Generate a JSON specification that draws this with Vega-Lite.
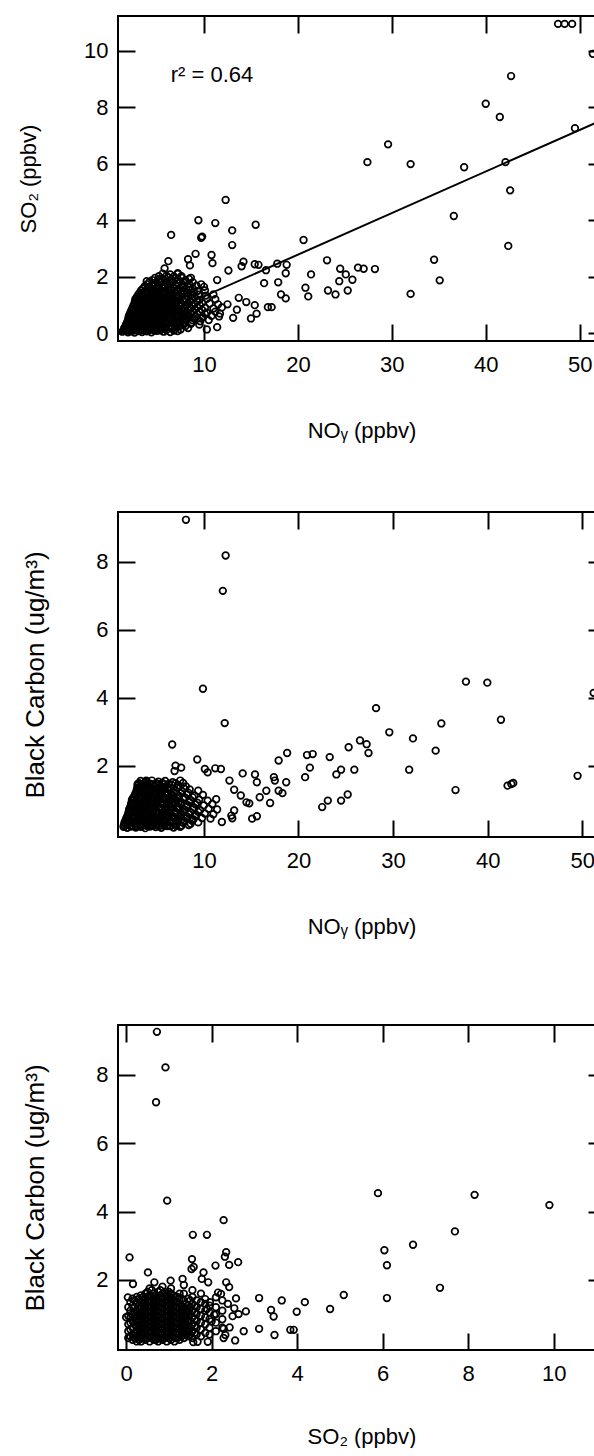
{
"$schema":"https://vega.github.io/schema/vega-lite/v6.json",
"padding":{"left":16,"top":14,"right":0,"bottom":0},
"spacing":68,
"config":{"font":"Liberation Sans","view":{"stroke":"black","strokeWidth":2},
 "point":{"shape":"circle","filled":false,"color":"black","size":44,"strokeWidth":1.7,"opacity":1},
 "axis":{"domain":false,"grid":false,"offset":-17,"tickColor":"black","tickWidth":2,"tickSize":17,"labelFont":"Liberation Sans","labelFontSize":22,"labelColor":"black","titleFont":"Liberation Sans","titleFontSize":22,"titleFontWeight":"normal","titleColor":"black"},
 "axisBottom":{"labelPadding":13,"titlePadding":45},
 "axisLeft":{"labelPadding":10,"titlePadding":43}},
"datasets":{
"p1":[
{"noy":47.7,"so2":10.96},{"noy":48.4,"so2":10.96},{"noy":49.2,"so2":10.96},{"noy":51.4,"so2":9.9},{"noy":42.7,"so2":9.11},{"noy":40.0,"so2":8.13},{"noy":41.5,"so2":7.66},{"noy":49.5,"so2":7.26},{"noy":29.6,"so2":6.69},{"noy":27.4,"so2":6.06},{"noy":32.0,"so2":5.99},{"noy":37.7,"so2":5.88},{"noy":42.1,"so2":6.06},{"noy":42.6,"so2":5.06},{"noy":36.6,"so2":4.15},{"noy":42.4,"so2":3.09},{"noy":20.6,"so2":3.30},{"noy":23.1,"so2":2.58},{"noy":34.5,"so2":2.60},{"noy":24.5,"so2":2.28},{"noy":25.1,"so2":2.08},{"noy":21.4,"so2":2.08},{"noy":26.4,"so2":2.32},{"noy":27.0,"so2":2.28},{"noy":28.2,"so2":2.27},{"noy":25.8,"so2":1.89},{"noy":24.4,"so2":1.84},{"noy":20.8,"so2":1.61},{"noy":23.2,"so2":1.51},{"noy":25.3,"so2":1.51},{"noy":21.1,"so2":1.30},{"noy":24.0,"so2":1.37},{"noy":35.1,"so2":1.87},{"noy":32.0,"so2":1.39},
{"noy":12.3,"so2":4.72},{"noy":9.4,"so2":4.0},{"noy":11.2,"so2":3.9},{"noy":15.5,"so2":3.84},{"noy":13.0,"so2":3.64},{"noy":6.5,"so2":3.48},{"noy":9.8,"so2":3.42},{"noy":9.7,"so2":3.38},{"noy":13.0,"so2":3.12},{"noy":9.1,"so2":2.81},{"noy":10.8,"so2":2.77},{"noy":10.9,"so2":2.48},{"noy":8.3,"so2":2.62},{"noy":6.2,"so2":2.55},{"noy":5.8,"so2":2.29},{"noy":8.5,"so2":2.40},{"noy":12.6,"so2":2.22},{"noy":14.2,"so2":2.53},{"noy":14.0,"so2":2.37},{"noy":15.4,"so2":2.44},{"noy":15.8,"so2":2.42},{"noy":16.6,"so2":2.23},{"noy":17.8,"so2":2.46},{"noy":18.8,"so2":2.42},{"noy":18.7,"so2":2.12},{"noy":16.4,"so2":1.77},{"noy":17.9,"so2":1.80},{"noy":18.2,"so2":1.37},{"noy":18.7,"so2":1.23},{"noy":16.8,"so2":0.92},{"noy":17.2,"so2":0.92},{"noy":13.7,"so2":1.25},{"noy":14.5,"so2":1.10},{"noy":15.4,"so2":0.99},{"noy":15.0,"so2":0.52},{"noy":15.6,"so2":0.69},{"noy":13.1,"so2":0.54},{"noy":13.5,"so2":0.83},{"noy":11.7,"so2":0.69},{"noy":11.4,"so2":0.21},{"noy":10.3,"so2":0.13},{"noy":12.5,"so2":1.02},{"noy":11.4,"so2":1.88},{"noy":3.9,"so2":1.84},{"noy":2.7,"so2":1.13},{"noy":9.7,"so2":1.73},{"noy":8.6,"so2":1.96},{"noy":7.2,"so2":2.10},
{"noy":1.3,"so2":0.05},{"noy":1.6,"so2":0.08},{"noy":1.9,"so2":0.03},{"noy":2.2,"so2":0.06},{"noy":2.6,"so2":0.02},{"noy":3.0,"so2":0.07},{"noy":3.4,"so2":0.04},{"noy":3.9,"so2":0.06},{"noy":4.4,"so2":0.03},{"noy":5.0,"so2":0.08},{"noy":5.7,"so2":0.05},{"noy":6.4,"so2":0.04},{"noy":7.2,"so2":0.07},
{"noy":1.5,"so2":0.17},{"noy":1.8,"so2":0.13},{"noy":2.1,"so2":0.18},{"noy":2.4,"so2":0.14},{"noy":2.8,"so2":0.16},{"noy":3.2,"so2":0.12},{"noy":3.6,"so2":0.18},{"noy":4.1,"so2":0.15},{"noy":4.6,"so2":0.13},{"noy":5.2,"so2":0.17},{"noy":5.8,"so2":0.14},{"noy":6.6,"so2":0.16},{"noy":7.5,"so2":0.13},{"noy":8.3,"so2":0.18},
{"noy":1.7,"so2":0.31},{"noy":2.0,"so2":0.28},{"noy":2.3,"so2":0.33},{"noy":2.7,"so2":0.29},{"noy":3.0,"so2":0.32},{"noy":3.4,"so2":0.27},{"noy":3.8,"so2":0.31},{"noy":4.3,"so2":0.33},{"noy":4.8,"so2":0.28},{"noy":5.3,"so2":0.30},{"noy":5.9,"so2":0.32},{"noy":6.5,"so2":0.27},{"noy":7.1,"so2":0.31},{"noy":7.8,"so2":0.29},{"noy":8.6,"so2":0.33},{"noy":9.5,"so2":0.30},
{"noy":1.9,"so2":0.46},{"noy":2.2,"so2":0.43},{"noy":2.5,"so2":0.47},{"noy":2.9,"so2":0.44},{"noy":3.3,"so2":0.46},{"noy":3.7,"so2":0.42},{"noy":4.1,"so2":0.47},{"noy":4.6,"so2":0.45},{"noy":5.1,"so2":0.43},{"noy":5.6,"so2":0.48},{"noy":6.2,"so2":0.44},{"noy":6.8,"so2":0.46},{"noy":7.4,"so2":0.43},{"noy":8.0,"so2":0.47},{"noy":8.8,"so2":0.45},{"noy":9.6,"so2":0.42},{"noy":10.5,"so2":0.46},
{"noy":2.0,"so2":0.61},{"noy":2.4,"so2":0.58},{"noy":2.8,"so2":0.62},{"noy":3.1,"so2":0.59},{"noy":3.5,"so2":0.61},{"noy":3.9,"so2":0.57},{"noy":4.4,"so2":0.62},{"noy":4.9,"so2":0.60},{"noy":5.4,"so2":0.58},{"noy":5.9,"so2":0.63},{"noy":6.4,"so2":0.59},{"noy":7.0,"so2":0.61},{"noy":7.7,"so2":0.58},{"noy":8.4,"so2":0.62},{"noy":9.1,"so2":0.60},{"noy":9.9,"so2":0.57},{"noy":10.8,"so2":0.61},{"noy":11.6,"so2":0.59},
{"noy":2.2,"so2":0.76},{"noy":2.6,"so2":0.73},{"noy":3.0,"so2":0.77},{"noy":3.4,"so2":0.74},{"noy":3.8,"so2":0.76},{"noy":4.2,"so2":0.72},{"noy":4.7,"so2":0.77},{"noy":5.2,"so2":0.75},{"noy":5.7,"so2":0.73},{"noy":6.2,"so2":0.78},{"noy":6.8,"so2":0.74},{"noy":7.4,"so2":0.76},{"noy":8.1,"so2":0.73},{"noy":8.8,"so2":0.77},{"noy":9.5,"so2":0.75},{"noy":10.3,"so2":0.72},{"noy":11.2,"so2":0.76},
{"noy":2.4,"so2":0.91},{"noy":2.8,"so2":0.88},{"noy":3.2,"so2":0.92},{"noy":3.6,"so2":0.89},{"noy":4.0,"so2":0.91},{"noy":4.5,"so2":0.87},{"noy":5.0,"so2":0.92},{"noy":5.5,"so2":0.90},{"noy":6.0,"so2":0.88},{"noy":6.6,"so2":0.93},{"noy":7.2,"so2":0.89},{"noy":7.9,"so2":0.91},{"noy":8.6,"so2":0.88},{"noy":9.3,"so2":0.92},{"noy":10.1,"so2":0.90},{"noy":11.0,"so2":0.87},{"noy":11.9,"so2":0.91},
{"noy":2.6,"so2":1.06},{"noy":3.0,"so2":1.03},{"noy":3.4,"so2":1.07},{"noy":3.8,"so2":1.04},{"noy":4.3,"so2":1.06},{"noy":4.8,"so2":1.02},{"noy":5.3,"so2":1.07},{"noy":5.8,"so2":1.05},{"noy":6.4,"so2":1.03},{"noy":7.0,"so2":1.08},{"noy":7.6,"so2":1.04},{"noy":8.3,"so2":1.06},{"noy":9.0,"so2":1.03},{"noy":9.8,"so2":1.07},{"noy":10.6,"so2":1.05},{"noy":11.5,"so2":1.02},
{"noy":2.7,"so2":1.21},{"noy":3.2,"so2":1.18},{"noy":3.6,"so2":1.22},{"noy":4.0,"so2":1.19},{"noy":4.5,"so2":1.21},{"noy":5.0,"so2":1.17},{"noy":5.5,"so2":1.22},{"noy":6.1,"so2":1.20},{"noy":6.7,"so2":1.18},{"noy":7.3,"so2":1.23},{"noy":8.0,"so2":1.19},{"noy":8.7,"so2":1.21},{"noy":9.5,"so2":1.18},{"noy":10.3,"so2":1.22},{"noy":11.2,"so2":1.20},
{"noy":3.0,"so2":1.36},{"noy":3.4,"so2":1.33},{"noy":3.9,"so2":1.37},{"noy":4.4,"so2":1.34},{"noy":4.9,"so2":1.36},{"noy":5.4,"so2":1.32},{"noy":6.0,"so2":1.37},{"noy":6.6,"so2":1.35},{"noy":7.2,"so2":1.33},{"noy":7.9,"so2":1.38},{"noy":8.6,"so2":1.34},{"noy":9.4,"so2":1.36},{"noy":10.2,"so2":1.33},{"noy":11.0,"so2":1.37},
{"noy":3.3,"so2":1.51},{"noy":3.8,"so2":1.48},{"noy":4.3,"so2":1.52},{"noy":4.8,"so2":1.49},{"noy":5.3,"so2":1.51},{"noy":5.9,"so2":1.47},{"noy":6.5,"so2":1.52},{"noy":7.1,"so2":1.50},{"noy":7.8,"so2":1.48},{"noy":8.5,"so2":1.53},{"noy":9.3,"so2":1.49},{"noy":10.1,"so2":1.51},
{"noy":3.7,"so2":1.66},{"noy":4.2,"so2":1.63},{"noy":4.7,"so2":1.67},{"noy":5.2,"so2":1.64},{"noy":5.8,"so2":1.66},{"noy":6.4,"so2":1.62},{"noy":7.0,"so2":1.67},{"noy":7.7,"so2":1.65},{"noy":8.4,"so2":1.63},{"noy":9.2,"so2":1.68},{"noy":10.0,"so2":1.64},
{"noy":4.2,"so2":1.81},{"noy":4.8,"so2":1.78},{"noy":5.4,"so2":1.82},{"noy":6.0,"so2":1.79},{"noy":6.6,"so2":1.81},{"noy":7.3,"so2":1.77},{"noy":8.0,"so2":1.82},{"noy":8.8,"so2":1.80},
{"noy":4.8,"so2":1.96},{"noy":5.5,"so2":1.93},{"noy":6.2,"so2":1.97},{"noy":6.9,"so2":1.94},{"noy":7.6,"so2":1.96},{"noy":8.4,"so2":1.92},
{"noy":5.6,"so2":2.11},{"noy":6.4,"so2":2.08},{"noy":7.2,"so2":2.12},
{"noy":1.45,"so2":0.10},{"noy":1.75,"so2":0.11},{"noy":2.05,"so2":0.09},{"noy":2.4,"so2":0.10},{"noy":2.8,"so2":0.11},{"noy":3.2,"so2":0.09},{"noy":3.65,"so2":0.10},{"noy":4.15,"so2":0.11},{"noy":4.7,"so2":0.09},{"noy":5.35,"so2":0.10},{"noy":6.0,"so2":0.11},{"noy":6.8,"so2":0.09},
{"noy":1.6,"so2":0.23},{"noy":1.95,"so2":0.24},{"noy":2.25,"so2":0.22},{"noy":2.55,"so2":0.23},{"noy":2.9,"so2":0.24},{"noy":3.3,"so2":0.22},{"noy":3.7,"so2":0.23},{"noy":4.2,"so2":0.24},{"noy":4.7,"so2":0.22},{"noy":5.25,"so2":0.23},{"noy":5.85,"so2":0.24},{"noy":6.55,"so2":0.22},{"noy":7.3,"so2":0.23},{"noy":8.0,"so2":0.24},
{"noy":1.8,"so2":0.38},{"noy":2.15,"so2":0.39},{"noy":2.5,"so2":0.37},{"noy":2.85,"so2":0.38},{"noy":3.2,"so2":0.39},{"noy":3.55,"so2":0.37},{"noy":4.0,"so2":0.38},{"noy":4.45,"so2":0.39},{"noy":4.95,"so2":0.37},{"noy":5.45,"so2":0.38},{"noy":6.05,"so2":0.39},{"noy":6.65,"so2":0.37},{"noy":7.25,"so2":0.38},{"noy":7.95,"so2":0.39},{"noy":8.7,"so2":0.37},
{"noy":1.95,"so2":0.53},{"noy":2.3,"so2":0.54},{"noy":2.65,"so2":0.52},{"noy":3.0,"so2":0.53},{"noy":3.4,"so2":0.54},{"noy":3.8,"so2":0.52},{"noy":4.25,"so2":0.53},{"noy":4.75,"so2":0.54},{"noy":5.25,"so2":0.52},{"noy":5.75,"so2":0.53},{"noy":6.3,"so2":0.54},{"noy":6.9,"so2":0.52},{"noy":7.55,"so2":0.53},{"noy":8.2,"so2":0.54},{"noy":8.95,"so2":0.52},{"noy":9.75,"so2":0.53},
{"noy":2.1,"so2":0.68},{"noy":2.5,"so2":0.69},{"noy":2.9,"so2":0.67},{"noy":3.25,"so2":0.68},{"noy":3.65,"so2":0.69},{"noy":4.05,"so2":0.67},{"noy":4.55,"so2":0.68},{"noy":5.05,"so2":0.69},{"noy":5.55,"so2":0.67},{"noy":6.05,"so2":0.68},{"noy":6.6,"so2":0.69},{"noy":7.2,"so2":0.67},{"noy":7.9,"so2":0.68},{"noy":8.6,"so2":0.69},{"noy":9.3,"so2":0.67},{"noy":10.1,"so2":0.68},
{"noy":2.3,"so2":0.83},{"noy":2.7,"so2":0.84},{"noy":3.1,"so2":0.82},{"noy":3.5,"so2":0.83},{"noy":3.9,"so2":0.84},{"noy":4.35,"so2":0.82},{"noy":4.85,"so2":0.83},{"noy":5.35,"so2":0.84},{"noy":5.85,"so2":0.82},{"noy":6.4,"so2":0.83},{"noy":7.0,"so2":0.84},{"noy":7.65,"so2":0.82},{"noy":8.35,"so2":0.83},{"noy":9.05,"so2":0.84},{"noy":9.8,"so2":0.82},
{"noy":2.5,"so2":0.98},{"noy":2.9,"so2":0.99},{"noy":3.3,"so2":0.97},{"noy":3.7,"so2":0.98},{"noy":4.15,"so2":0.99},{"noy":4.65,"so2":0.97},{"noy":5.15,"so2":0.98},{"noy":5.65,"so2":0.99},{"noy":6.2,"so2":0.97},{"noy":6.8,"so2":0.98},{"noy":7.4,"so2":0.99},{"noy":8.1,"so2":0.97},{"noy":8.8,"so2":0.98},{"noy":9.55,"so2":0.99},
{"noy":2.65,"so2":1.13},{"noy":3.1,"so2":1.14},{"noy":3.5,"so2":1.12},{"noy":3.9,"so2":1.13},{"noy":4.4,"so2":1.14},{"noy":4.9,"so2":1.12},{"noy":5.4,"so2":1.13},{"noy":5.95,"so2":1.14},{"noy":6.55,"so2":1.12},{"noy":7.15,"so2":1.13},{"noy":7.8,"so2":1.14},{"noy":8.5,"so2":1.12},{"noy":9.25,"so2":1.13},
{"noy":2.85,"so2":1.28},{"noy":3.3,"so2":1.29},{"noy":3.75,"so2":1.27},{"noy":4.2,"so2":1.28},{"noy":4.7,"so2":1.29},{"noy":5.2,"so2":1.27},{"noy":5.75,"so2":1.28},{"noy":6.3,"so2":1.29},{"noy":6.95,"so2":1.27},{"noy":7.6,"so2":1.28},{"noy":8.3,"so2":1.29},{"noy":9.0,"so2":1.27},
{"noy":3.15,"so2":1.43},{"noy":3.6,"so2":1.44},{"noy":4.1,"so2":1.42},{"noy":4.6,"so2":1.43},{"noy":5.1,"so2":1.44},{"noy":5.65,"so2":1.42},{"noy":6.25,"so2":1.43},{"noy":6.85,"so2":1.44},{"noy":7.5,"so2":1.42},{"noy":8.2,"so2":1.43},{"noy":8.95,"so2":1.44},
{"noy":3.5,"so2":1.58},{"noy":4.0,"so2":1.59},{"noy":4.5,"so2":1.57},{"noy":5.0,"so2":1.58},{"noy":5.55,"so2":1.59},{"noy":6.15,"so2":1.57},{"noy":6.75,"so2":1.58},{"noy":7.4,"so2":1.59},{"noy":8.1,"so2":1.57},{"noy":8.8,"so2":1.58},
{"noy":3.95,"so2":1.73},{"noy":4.5,"so2":1.74},{"noy":5.1,"so2":1.72},{"noy":5.7,"so2":1.73},{"noy":6.3,"so2":1.74},{"noy":6.95,"so2":1.72},{"noy":7.65,"so2":1.73},{"noy":8.4,"so2":1.74},
{"noy":4.5,"so2":1.88},{"noy":5.15,"so2":1.89},{"noy":5.85,"so2":1.87},{"noy":6.55,"so2":1.88},{"noy":7.25,"so2":1.89},{"noy":8.0,"so2":1.87},
{"noy":5.2,"so2":2.02},{"noy":6.0,"so2":2.03},{"noy":6.8,"so2":2.01},{"noy":7.6,"so2":2.02},
{"noy":1.65,"so2":0.19},{"noy":2.25,"so2":0.2},{"noy":2.85,"so2":0.19},{"noy":3.45,"so2":0.2},{"noy":4.05,"so2":0.19},{"noy":4.65,"so2":0.2},{"noy":5.25,"so2":0.19},{"noy":5.85,"so2":0.2},{"noy":6.45,"so2":0.19},{"noy":7.05,"so2":0.2},
{"noy":1.85,"so2":0.34},{"noy":2.45,"so2":0.35},{"noy":3.05,"so2":0.34},{"noy":3.65,"so2":0.35},{"noy":4.25,"so2":0.34},{"noy":4.85,"so2":0.35},{"noy":5.45,"so2":0.34},{"noy":6.05,"so2":0.35},{"noy":6.65,"so2":0.34},{"noy":7.25,"so2":0.35},{"noy":7.85,"so2":0.34},
{"noy":2.05,"so2":0.49},{"noy":2.65,"so2":0.5},{"noy":3.25,"so2":0.49},{"noy":3.85,"so2":0.5},{"noy":4.45,"so2":0.49},{"noy":5.05,"so2":0.5},{"noy":5.65,"so2":0.49},{"noy":6.25,"so2":0.5},{"noy":6.85,"so2":0.49},{"noy":7.45,"so2":0.5},{"noy":8.05,"so2":0.49},
{"noy":2.25,"so2":0.64},{"noy":2.85,"so2":0.65},{"noy":3.45,"so2":0.64},{"noy":4.05,"so2":0.65},{"noy":4.65,"so2":0.64},{"noy":5.25,"so2":0.65},{"noy":5.85,"so2":0.64},{"noy":6.45,"so2":0.65},{"noy":7.05,"so2":0.64},{"noy":7.65,"so2":0.65},{"noy":8.25,"so2":0.64},
{"noy":2.45,"so2":0.79},{"noy":3.05,"so2":0.8},{"noy":3.65,"so2":0.79},{"noy":4.25,"so2":0.8},{"noy":4.85,"so2":0.79},{"noy":5.45,"so2":0.8},{"noy":6.05,"so2":0.79},{"noy":6.65,"so2":0.8},{"noy":7.25,"so2":0.79},{"noy":7.85,"so2":0.8},
{"noy":2.65,"so2":0.94},{"noy":3.25,"so2":0.95},{"noy":3.85,"so2":0.94},{"noy":4.45,"so2":0.95},{"noy":5.05,"so2":0.94},{"noy":5.65,"so2":0.95},{"noy":6.25,"so2":0.94},{"noy":6.85,"so2":0.95},{"noy":7.45,"so2":0.94},
{"noy":2.85,"so2":1.09},{"noy":3.45,"so2":1.1},{"noy":4.05,"so2":1.09},{"noy":4.65,"so2":1.1},{"noy":5.25,"so2":1.09},{"noy":5.85,"so2":1.1},{"noy":6.45,"so2":1.09},{"noy":7.05,"so2":1.1},
{"noy":3.05,"so2":1.24},{"noy":3.65,"so2":1.25},{"noy":4.25,"so2":1.24},{"noy":4.85,"so2":1.25},{"noy":5.45,"so2":1.24},{"noy":6.05,"so2":1.25},{"noy":6.65,"so2":1.24},
{"noy":3.35,"so2":1.39},{"noy":3.95,"so2":1.4},{"noy":4.55,"so2":1.39},{"noy":5.15,"so2":1.4},{"noy":5.75,"so2":1.39},{"noy":6.35,"so2":1.4}
],
"p2":[
{"noy":8.1,"bc":9.24},{"noy":12.3,"bc":8.19},{"noy":12.0,"bc":7.15},{"noy":9.9,"bc":4.27},{"noy":12.2,"bc":3.26},{"noy":6.65,"bc":2.63},{"noy":9.3,"bc":2.19},{"noy":18.8,"bc":2.38},{"noy":17.9,"bc":2.16},{"noy":14.1,"bc":1.78},{"noy":15.4,"bc":1.75},{"noy":15.6,"bc":1.52},{"noy":17.4,"bc":1.67},{"noy":17.5,"bc":1.57},{"noy":18.7,"bc":1.52},{"noy":16.6,"bc":1.27},{"noy":15.9,"bc":1.08},{"noy":17.9,"bc":1.27},{"noy":18.3,"bc":1.20},{"noy":17.0,"bc":0.91},{"noy":15.1,"bc":0.45},{"noy":15.6,"bc":0.52},{"noy":14.5,"bc":0.93},{"noy":13.2,"bc":0.69},{"noy":12.9,"bc":0.54},{"noy":11.9,"bc":0.35},{"noy":13.0,"bc":0.46},{"noy":13.9,"bc":1.13},{"noy":14.8,"bc":0.9},{"noy":12.7,"bc":1.57},{"noy":13.2,"bc":1.3},{"noy":11.8,"bc":1.91},{"noy":11.2,"bc":1.93},{"noy":10.4,"bc":1.81},{"noy":10.1,"bc":1.91},{"noy":7.0,"bc":2.01},{"noy":7.6,"bc":1.95},{"noy":6.9,"bc":1.85},{"noy":2.5,"bc":1.03},{"noy":3.0,"bc":1.47},{"noy":3.9,"bc":1.57},
{"noy":37.7,"bc":4.48},{"noy":39.96,"bc":4.45},{"noy":51.2,"bc":4.15},{"noy":41.4,"bc":3.36},{"noy":28.2,"bc":3.70},{"noy":35.1,"bc":3.25},{"noy":29.6,"bc":2.99},{"noy":32.1,"bc":2.81},{"noy":26.5,"bc":2.75},{"noy":27.2,"bc":2.64},{"noy":27.4,"bc":2.38},{"noy":25.3,"bc":2.55},{"noy":34.5,"bc":2.45},{"noy":23.3,"bc":2.26},{"noy":20.9,"bc":2.32},{"noy":21.5,"bc":2.35},{"noy":21.2,"bc":1.95},{"noy":20.7,"bc":1.67},{"noy":24.5,"bc":1.89},{"noy":24.0,"bc":1.75},{"noy":25.9,"bc":1.89},{"noy":31.7,"bc":1.89},{"noy":25.2,"bc":1.16},{"noy":24.5,"bc":0.98},{"noy":23.1,"bc":0.98},{"noy":22.5,"bc":0.79},{"noy":36.6,"bc":1.29},{"noy":42.1,"bc":1.42},{"noy":42.5,"bc":1.47},{"noy":42.7,"bc":1.5},{"noy":49.5,"bc":1.71},
{"noy":1.5,"bc":0.21},{"noy":1.9,"bc":0.18},{"noy":2.3,"bc":0.22},{"noy":2.8,"bc":0.19},{"noy":3.3,"bc":0.21},{"noy":3.8,"bc":0.17},{"noy":4.3,"bc":0.22},{"noy":4.9,"bc":0.20},{"noy":5.5,"bc":0.18},{"noy":6.1,"bc":0.23},{"noy":6.8,"bc":0.19},{"noy":7.5,"bc":0.21},
{"noy":1.6,"bc":0.33},{"noy":2.0,"bc":0.30},{"noy":2.4,"bc":0.34},{"noy":2.9,"bc":0.31},{"noy":3.4,"bc":0.33},{"noy":3.9,"bc":0.29},{"noy":4.5,"bc":0.34},{"noy":5.1,"bc":0.32},{"noy":5.7,"bc":0.30},{"noy":6.4,"bc":0.35},{"noy":7.1,"bc":0.31},{"noy":7.8,"bc":0.33},{"noy":8.6,"bc":0.30},{"noy":9.4,"bc":0.34},
{"noy":1.8,"bc":0.46},{"noy":2.2,"bc":0.43},{"noy":2.6,"bc":0.47},{"noy":3.1,"bc":0.44},{"noy":3.6,"bc":0.46},{"noy":4.1,"bc":0.42},{"noy":4.7,"bc":0.47},{"noy":5.3,"bc":0.45},{"noy":5.9,"bc":0.43},{"noy":6.6,"bc":0.48},{"noy":7.3,"bc":0.44},{"noy":8.1,"bc":0.46},{"noy":8.9,"bc":0.43},{"noy":9.8,"bc":0.47},{"noy":10.7,"bc":0.45},
{"noy":2.0,"bc":0.59},{"noy":2.4,"bc":0.56},{"noy":2.9,"bc":0.60},{"noy":3.4,"bc":0.57},{"noy":3.9,"bc":0.59},{"noy":4.4,"bc":0.55},{"noy":5.0,"bc":0.60},{"noy":5.6,"bc":0.58},{"noy":6.2,"bc":0.56},{"noy":6.9,"bc":0.61},{"noy":7.6,"bc":0.57},{"noy":8.4,"bc":0.59},{"noy":9.2,"bc":0.56},{"noy":10.1,"bc":0.60},{"noy":11.0,"bc":0.58},
{"noy":2.1,"bc":0.73},{"noy":2.6,"bc":0.70},{"noy":3.1,"bc":0.74},{"noy":3.6,"bc":0.71},{"noy":4.1,"bc":0.73},{"noy":4.7,"bc":0.69},{"noy":5.3,"bc":0.74},{"noy":5.9,"bc":0.72},{"noy":6.5,"bc":0.70},{"noy":7.2,"bc":0.75},{"noy":8.0,"bc":0.71},{"noy":8.8,"bc":0.73},{"noy":9.6,"bc":0.70},{"noy":10.5,"bc":0.74},{"noy":11.4,"bc":0.72},
{"noy":2.3,"bc":0.87},{"noy":2.8,"bc":0.84},{"noy":3.3,"bc":0.88},{"noy":3.8,"bc":0.85},{"noy":4.3,"bc":0.87},{"noy":4.9,"bc":0.83},{"noy":5.5,"bc":0.88},{"noy":6.1,"bc":0.86},{"noy":6.8,"bc":0.84},{"noy":7.5,"bc":0.89},{"noy":8.3,"bc":0.85},{"noy":9.1,"bc":0.87},{"noy":10.0,"bc":0.84},{"noy":10.9,"bc":0.88},
{"noy":2.4,"bc":1.01},{"noy":2.9,"bc":0.98},{"noy":3.4,"bc":1.02},{"noy":3.9,"bc":0.99},{"noy":4.5,"bc":1.01},{"noy":5.1,"bc":0.97},{"noy":5.7,"bc":1.02},{"noy":6.4,"bc":1.00},{"noy":7.1,"bc":0.98},{"noy":7.8,"bc":1.03},{"noy":8.6,"bc":0.99},{"noy":9.5,"bc":1.01},{"noy":10.4,"bc":0.98},{"noy":11.3,"bc":1.02},
{"noy":2.7,"bc":1.15},{"noy":3.2,"bc":1.12},{"noy":3.7,"bc":1.16},{"noy":4.2,"bc":1.13},{"noy":4.8,"bc":1.15},{"noy":5.4,"bc":1.11},{"noy":6.0,"bc":1.16},{"noy":6.7,"bc":1.14},{"noy":7.4,"bc":1.12},{"noy":8.2,"bc":1.17},{"noy":9.0,"bc":1.13},{"noy":9.9,"bc":1.15},
{"noy":2.9,"bc":1.29},{"noy":3.4,"bc":1.26},{"noy":3.9,"bc":1.30},{"noy":4.4,"bc":1.27},{"noy":5.0,"bc":1.29},{"noy":5.6,"bc":1.25},{"noy":6.3,"bc":1.30},{"noy":7.0,"bc":1.28},{"noy":7.7,"bc":1.26},{"noy":8.5,"bc":1.31},{"noy":9.4,"bc":1.27},
{"noy":3.0,"bc":1.43},{"noy":3.6,"bc":1.40},{"noy":4.1,"bc":1.44},{"noy":4.7,"bc":1.41},{"noy":5.3,"bc":1.43},{"noy":5.9,"bc":1.39},{"noy":6.6,"bc":1.44},{"noy":7.3,"bc":1.42},{"noy":8.1,"bc":1.40},
{"noy":3.3,"bc":1.56},{"noy":3.9,"bc":1.53},{"noy":4.5,"bc":1.57},{"noy":5.2,"bc":1.54},{"noy":5.9,"bc":1.56},{"noy":6.7,"bc":1.52},{"noy":7.5,"bc":1.57},
{"noy":1.55,"bc":0.26},{"noy":1.95,"bc":0.27},{"noy":2.35,"bc":0.25},{"noy":2.85,"bc":0.26},{"noy":3.35,"bc":0.27},{"noy":3.85,"bc":0.25},{"noy":4.4,"bc":0.26},{"noy":5.0,"bc":0.27},{"noy":5.6,"bc":0.25},{"noy":6.25,"bc":0.26},{"noy":6.95,"bc":0.27},{"noy":7.65,"bc":0.25},{"noy":8.4,"bc":0.26},
{"noy":1.7,"bc":0.39},{"noy":2.1,"bc":0.40},{"noy":2.5,"bc":0.38},{"noy":3.0,"bc":0.39},{"noy":3.5,"bc":0.40},{"noy":4.0,"bc":0.38},{"noy":4.6,"bc":0.39},{"noy":5.2,"bc":0.40},{"noy":5.8,"bc":0.38},{"noy":6.5,"bc":0.39},{"noy":7.2,"bc":0.40},{"noy":7.95,"bc":0.38},{"noy":8.75,"bc":0.39},
{"noy":1.9,"bc":0.52},{"noy":2.3,"bc":0.53},{"noy":2.75,"bc":0.51},{"noy":3.25,"bc":0.52},{"noy":3.75,"bc":0.53},{"noy":4.25,"bc":0.51},{"noy":4.85,"bc":0.52},{"noy":5.45,"bc":0.53},{"noy":6.05,"bc":0.51},{"noy":6.75,"bc":0.52},{"noy":7.45,"bc":0.53},{"noy":8.25,"bc":0.51},{"noy":9.05,"bc":0.52},
{"noy":2.05,"bc":0.65},{"noy":2.5,"bc":0.66},{"noy":3.0,"bc":0.64},{"noy":3.5,"bc":0.65},{"noy":4.0,"bc":0.66},{"noy":4.55,"bc":0.64},{"noy":5.15,"bc":0.65},{"noy":5.75,"bc":0.66},{"noy":6.35,"bc":0.64},{"noy":7.05,"bc":0.65},{"noy":7.8,"bc":0.66},{"noy":8.6,"bc":0.64},{"noy":9.4,"bc":0.65},
{"noy":2.2,"bc":0.79},{"noy":2.7,"bc":0.80},{"noy":3.2,"bc":0.78},{"noy":3.7,"bc":0.79},{"noy":4.2,"bc":0.80},{"noy":4.8,"bc":0.78},{"noy":5.4,"bc":0.79},{"noy":6.0,"bc":0.80},{"noy":6.65,"bc":0.78},{"noy":7.35,"bc":0.79},{"noy":8.15,"bc":0.80},{"noy":8.95,"bc":0.78},
{"noy":2.35,"bc":0.93},{"noy":2.85,"bc":0.94},{"noy":3.35,"bc":0.92},{"noy":3.85,"bc":0.93},{"noy":4.4,"bc":0.94},{"noy":5.0,"bc":0.92},{"noy":5.6,"bc":0.93},{"noy":6.25,"bc":0.94},{"noy":6.95,"bc":0.92},{"noy":7.65,"bc":0.93},{"noy":8.45,"bc":0.94},{"noy":9.3,"bc":0.92},
{"noy":2.55,"bc":1.07},{"noy":3.05,"bc":1.08},{"noy":3.55,"bc":1.06},{"noy":4.05,"bc":1.07},{"noy":4.65,"bc":1.08},{"noy":5.25,"bc":1.06},{"noy":5.85,"bc":1.07},{"noy":6.55,"bc":1.08},{"noy":7.25,"bc":1.06},{"noy":8.0,"bc":1.07},{"noy":8.8,"bc":1.08},
{"noy":2.8,"bc":1.21},{"noy":3.3,"bc":1.22},{"noy":3.8,"bc":1.20},{"noy":4.3,"bc":1.21},{"noy":4.9,"bc":1.22},{"noy":5.5,"bc":1.20},{"noy":6.15,"bc":1.21},{"noy":6.85,"bc":1.22},{"noy":7.55,"bc":1.20},{"noy":8.35,"bc":1.21},
{"noy":2.95,"bc":1.35},{"noy":3.5,"bc":1.36},{"noy":4.0,"bc":1.34},{"noy":4.55,"bc":1.35},{"noy":5.15,"bc":1.36},{"noy":5.75,"bc":1.34},{"noy":6.45,"bc":1.35},{"noy":7.15,"bc":1.36},{"noy":7.9,"bc":1.34},
{"noy":3.15,"bc":1.49},{"noy":3.75,"bc":1.50},{"noy":4.3,"bc":1.48},{"noy":4.95,"bc":1.49},{"noy":5.6,"bc":1.50},{"noy":6.3,"bc":1.48},{"noy":7.0,"bc":1.49},{"noy":7.8,"bc":1.50},
{"noy":1.65,"bc":0.23},{"noy":2.25,"bc":0.24},{"noy":2.85,"bc":0.23},{"noy":3.45,"bc":0.24},{"noy":4.05,"bc":0.23},{"noy":4.65,"bc":0.24},{"noy":5.25,"bc":0.23},{"noy":5.85,"bc":0.24},{"noy":6.45,"bc":0.23},{"noy":7.05,"bc":0.24},
{"noy":1.85,"bc":0.36},{"noy":2.45,"bc":0.37},{"noy":3.05,"bc":0.36},{"noy":3.65,"bc":0.37},{"noy":4.25,"bc":0.36},{"noy":4.85,"bc":0.37},{"noy":5.45,"bc":0.36},{"noy":6.05,"bc":0.37},{"noy":6.65,"bc":0.36},{"noy":7.25,"bc":0.37},
{"noy":2.0,"bc":0.49},{"noy":2.6,"bc":0.5},{"noy":3.2,"bc":0.49},{"noy":3.8,"bc":0.5},{"noy":4.4,"bc":0.49},{"noy":5.0,"bc":0.5},{"noy":5.6,"bc":0.49},{"noy":6.2,"bc":0.5},{"noy":6.8,"bc":0.49},{"noy":7.4,"bc":0.5},
{"noy":2.15,"bc":0.62},{"noy":2.75,"bc":0.63},{"noy":3.35,"bc":0.62},{"noy":3.95,"bc":0.63},{"noy":4.55,"bc":0.62},{"noy":5.15,"bc":0.63},{"noy":5.75,"bc":0.62},{"noy":6.35,"bc":0.63},{"noy":6.95,"bc":0.62},{"noy":7.55,"bc":0.63},
{"noy":2.35,"bc":0.76},{"noy":2.95,"bc":0.77},{"noy":3.55,"bc":0.76},{"noy":4.15,"bc":0.77},{"noy":4.75,"bc":0.76},{"noy":5.35,"bc":0.77},{"noy":5.95,"bc":0.76},{"noy":6.55,"bc":0.77},{"noy":7.15,"bc":0.76},
{"noy":2.5,"bc":0.9},{"noy":3.1,"bc":0.91},{"noy":3.7,"bc":0.9},{"noy":4.3,"bc":0.91},{"noy":4.9,"bc":0.9},{"noy":5.5,"bc":0.91},{"noy":6.1,"bc":0.9},{"noy":6.7,"bc":0.91},{"noy":7.3,"bc":0.9},
{"noy":2.65,"bc":1.04},{"noy":3.25,"bc":1.05},{"noy":3.85,"bc":1.04},{"noy":4.45,"bc":1.05},{"noy":5.05,"bc":1.04},{"noy":5.65,"bc":1.05},{"noy":6.25,"bc":1.04},{"noy":6.85,"bc":1.05},
{"noy":2.95,"bc":1.18},{"noy":3.55,"bc":1.19},{"noy":4.15,"bc":1.18},{"noy":4.75,"bc":1.19},{"noy":5.35,"bc":1.18},{"noy":5.95,"bc":1.19},{"noy":6.55,"bc":1.18},
{"noy":3.15,"bc":1.32},{"noy":3.75,"bc":1.33},{"noy":4.35,"bc":1.32},{"noy":4.95,"bc":1.33},{"noy":5.55,"bc":1.32},{"noy":6.15,"bc":1.33},
{"noy":3.4,"bc":1.46},{"noy":4.0,"bc":1.47},{"noy":4.6,"bc":1.46},{"noy":5.2,"bc":1.47},{"noy":5.8,"bc":1.46}
],
"p3":[
{"so2":0.72,"bc":9.26},{"so2":0.92,"bc":8.22},{"so2":0.70,"bc":7.20},{"so2":0.96,"bc":4.32},{"so2":2.28,"bc":3.75},{"so2":1.56,"bc":3.32},{"so2":1.89,"bc":3.32},{"so2":0.08,"bc":2.66},{"so2":1.54,"bc":2.61},{"so2":2.34,"bc":2.81},{"so2":2.31,"bc":2.68},{"so2":2.62,"bc":2.52},{"so2":2.41,"bc":2.44},{"so2":2.09,"bc":2.42},{"so2":1.58,"bc":2.38},{"so2":1.53,"bc":2.32},{"so2":1.81,"bc":2.22},{"so2":0.51,"bc":2.22},{"so2":1.77,"bc":2.03},{"so2":1.92,"bc":1.93},{"so2":0.16,"bc":1.88},{"so2":2.34,"bc":1.93},{"so2":2.41,"bc":1.79},{"so2":1.04,"bc":1.98},{"so2":1.32,"bc":2.03},{"so2":0.66,"bc":1.93},{"so2":0.04,"bc":1.49},{"so2":3.11,"bc":1.47},{"so2":3.64,"bc":1.40},{"so2":3.39,"bc":1.12},{"so2":3.45,"bc":0.93},{"so2":3.99,"bc":1.07},{"so2":2.80,"bc":1.08},{"so2":3.11,"bc":0.57},{"so2":3.47,"bc":0.39},{"so2":3.84,"bc":0.54},{"so2":3.92,"bc":0.54},{"so2":2.75,"bc":0.50},{"so2":2.55,"bc":0.23},{"so2":2.28,"bc":0.30},{"so2":1.13,"bc":0.20},{"so2":1.57,"bc":0.18},
{"so2":5.89,"bc":4.54},{"so2":8.15,"bc":4.49},{"so2":9.90,"bc":4.19},{"so2":7.69,"bc":3.42},{"so2":6.71,"bc":3.03},{"so2":6.04,"bc":2.87},{"so2":6.10,"bc":2.43},{"so2":7.34,"bc":1.77},{"so2":6.10,"bc":1.47},{"so2":5.09,"bc":1.56},{"so2":4.18,"bc":1.35},{"so2":4.77,"bc":1.15},
{"so2":2.57,"bc":1.46},{"so2":2.53,"bc":1.17},{"so2":2.63,"bc":1.00},{"so2":2.49,"bc":0.94},{"so2":2.38,"bc":1.30},{"so2":2.22,"bc":1.59},{"so2":2.10,"bc":1.49},{"so2":2.15,"bc":1.63},{"so2":1.96,"bc":1.35},{"so2":1.85,"bc":1.44},{"so2":1.89,"bc":1.15},{"so2":2.06,"bc":0.98},{"so2":2.0,"bc":0.79},{"so2":1.67,"bc":0.19},{"so2":1.91,"bc":0.19},{"so2":0.0,"bc":0.91},{"so2":2.32,"bc":0.39},{"so2":2.28,"bc":0.57},{"so2":2.42,"bc":0.61},
{"so2":0.05,"bc":0.3},{"so2":0.05,"bc":0.5},{"so2":0.05,"bc":0.7},{"so2":0.05,"bc":0.95},{"so2":0.05,"bc":1.2},
{"so2":0.15,"bc":0.25},{"so2":0.15,"bc":0.4},{"so2":0.15,"bc":0.6},{"so2":0.15,"bc":0.8},{"so2":0.15,"bc":1.0},{"so2":0.15,"bc":1.25},{"so2":0.15,"bc":1.45},
{"so2":0.25,"bc":0.2},{"so2":0.25,"bc":0.35},{"so2":0.25,"bc":0.5},{"so2":0.25,"bc":0.65},{"so2":0.25,"bc":0.8},{"so2":0.25,"bc":0.95},{"so2":0.25,"bc":1.1},{"so2":0.25,"bc":1.3},{"so2":0.25,"bc":1.5},
{"so2":0.35,"bc":0.2},{"so2":0.35,"bc":0.3},{"so2":0.35,"bc":0.45},{"so2":0.35,"bc":0.6},{"so2":0.35,"bc":0.75},{"so2":0.35,"bc":0.9},{"so2":0.35,"bc":1.05},{"so2":0.35,"bc":1.2},{"so2":0.35,"bc":1.35},{"so2":0.35,"bc":1.55},
{"so2":0.45,"bc":0.25},{"so2":0.45,"bc":0.4},{"so2":0.45,"bc":0.55},{"so2":0.45,"bc":0.7},{"so2":0.45,"bc":0.85},{"so2":0.45,"bc":1.0},{"so2":0.45,"bc":1.15},{"so2":0.45,"bc":1.3},{"so2":0.45,"bc":1.45},{"so2":0.45,"bc":1.6},
{"so2":0.55,"bc":0.2},{"so2":0.55,"bc":0.35},{"so2":0.55,"bc":0.5},{"so2":0.55,"bc":0.65},{"so2":0.55,"bc":0.8},{"so2":0.55,"bc":0.95},{"so2":0.55,"bc":1.1},{"so2":0.55,"bc":1.25},{"so2":0.55,"bc":1.4},{"so2":0.55,"bc":1.55},{"so2":0.55,"bc":1.75},
{"so2":0.65,"bc":0.25},{"so2":0.65,"bc":0.4},{"so2":0.65,"bc":0.55},{"so2":0.65,"bc":0.7},{"so2":0.65,"bc":0.85},{"so2":0.65,"bc":1.0},{"so2":0.65,"bc":1.15},{"so2":0.65,"bc":1.3},{"so2":0.65,"bc":1.45},{"so2":0.65,"bc":1.6},
{"so2":0.75,"bc":0.2},{"so2":0.75,"bc":0.3},{"so2":0.75,"bc":0.45},{"so2":0.75,"bc":0.6},{"so2":0.75,"bc":0.75},{"so2":0.75,"bc":0.9},{"so2":0.75,"bc":1.05},{"so2":0.75,"bc":1.2},{"so2":0.75,"bc":1.35},{"so2":0.75,"bc":1.5},{"so2":0.75,"bc":1.65},
{"so2":0.85,"bc":0.25},{"so2":0.85,"bc":0.4},{"so2":0.85,"bc":0.55},{"so2":0.85,"bc":0.7},{"so2":0.85,"bc":0.85},{"so2":0.85,"bc":1.0},{"so2":0.85,"bc":1.15},{"so2":0.85,"bc":1.3},{"so2":0.85,"bc":1.45},{"so2":0.85,"bc":1.6},{"so2":0.85,"bc":1.8},
{"so2":0.95,"bc":0.2},{"so2":0.95,"bc":0.35},{"so2":0.95,"bc":0.5},{"so2":0.95,"bc":0.65},{"so2":0.95,"bc":0.8},{"so2":0.95,"bc":0.95},{"so2":0.95,"bc":1.1},{"so2":0.95,"bc":1.25},{"so2":0.95,"bc":1.4},{"so2":0.95,"bc":1.55},
{"so2":1.05,"bc":0.25},{"so2":1.05,"bc":0.4},{"so2":1.05,"bc":0.55},{"so2":1.05,"bc":0.7},{"so2":1.05,"bc":0.85},{"so2":1.05,"bc":1.0},{"so2":1.05,"bc":1.15},{"so2":1.05,"bc":1.3},{"so2":1.05,"bc":1.45},{"so2":1.05,"bc":1.6},{"so2":1.05,"bc":1.75},
{"so2":1.15,"bc":0.3},{"so2":1.15,"bc":0.45},{"so2":1.15,"bc":0.6},{"so2":1.15,"bc":0.75},{"so2":1.15,"bc":0.9},{"so2":1.15,"bc":1.05},{"so2":1.15,"bc":1.2},{"so2":1.15,"bc":1.35},{"so2":1.15,"bc":1.5},
{"so2":1.25,"bc":0.25},{"so2":1.25,"bc":0.4},{"so2":1.25,"bc":0.55},{"so2":1.25,"bc":0.7},{"so2":1.25,"bc":0.85},{"so2":1.25,"bc":1.0},{"so2":1.25,"bc":1.15},{"so2":1.25,"bc":1.3},{"so2":1.25,"bc":1.45},{"so2":1.25,"bc":1.6},
{"so2":1.35,"bc":0.3},{"so2":1.35,"bc":0.45},{"so2":1.35,"bc":0.6},{"so2":1.35,"bc":0.75},{"so2":1.35,"bc":0.9},{"so2":1.35,"bc":1.05},{"so2":1.35,"bc":1.2},{"so2":1.35,"bc":1.4},{"so2":1.35,"bc":1.6},{"so2":1.35,"bc":1.85},
{"so2":1.45,"bc":0.35},{"so2":1.45,"bc":0.5},{"so2":1.45,"bc":0.65},{"so2":1.45,"bc":0.8},{"so2":1.45,"bc":0.95},{"so2":1.45,"bc":1.1},{"so2":1.45,"bc":1.25},{"so2":1.45,"bc":1.45},
{"so2":1.55,"bc":0.3},{"so2":1.55,"bc":0.5},{"so2":1.55,"bc":0.7},{"so2":1.55,"bc":0.9},{"so2":1.55,"bc":1.1},{"so2":1.55,"bc":1.3},{"so2":1.55,"bc":1.5},{"so2":1.55,"bc":1.7},
{"so2":1.65,"bc":0.4},{"so2":1.65,"bc":0.6},{"so2":1.65,"bc":0.8},{"so2":1.65,"bc":1.0},{"so2":1.65,"bc":1.2},{"so2":1.65,"bc":1.4},
{"so2":1.75,"bc":0.35},{"so2":1.75,"bc":0.55},{"so2":1.75,"bc":0.75},{"so2":1.75,"bc":0.95},{"so2":1.75,"bc":1.15},{"so2":1.75,"bc":1.35},{"so2":1.75,"bc":1.6},
{"so2":1.85,"bc":0.45},{"so2":1.85,"bc":0.7},{"so2":1.85,"bc":0.9},{"so2":1.85,"bc":1.1},{"so2":1.85,"bc":1.3},
{"so2":1.95,"bc":0.4},{"so2":1.95,"bc":0.6},{"so2":1.95,"bc":0.85},{"so2":1.95,"bc":1.05},{"so2":1.95,"bc":1.25},
{"so2":2.1,"bc":0.5},{"so2":2.1,"bc":0.75},{"so2":2.1,"bc":1.0},{"so2":2.1,"bc":1.2},
{"so2":2.25,"bc":0.6},{"so2":2.25,"bc":0.85},{"so2":2.25,"bc":1.1},{"so2":2.25,"bc":1.4},
{"so2":0.1,"bc":0.35},{"so2":0.1,"bc":0.55},{"so2":0.1,"bc":0.75},{"so2":0.1,"bc":0.9},{"so2":0.1,"bc":1.1},{"so2":0.1,"bc":1.35},
{"so2":0.2,"bc":0.3},{"so2":0.2,"bc":0.45},{"so2":0.2,"bc":0.7},{"so2":0.2,"bc":0.9},{"so2":0.2,"bc":1.05},{"so2":0.2,"bc":1.2},{"so2":0.2,"bc":1.4},
{"so2":0.3,"bc":0.25},{"so2":0.3,"bc":0.4},{"so2":0.3,"bc":0.55},{"so2":0.3,"bc":0.7},{"so2":0.3,"bc":0.85},{"so2":0.3,"bc":1.0},{"so2":0.3,"bc":1.15},{"so2":0.3,"bc":1.25},{"so2":0.3,"bc":1.45},
{"so2":0.4,"bc":0.3},{"so2":0.4,"bc":0.5},{"so2":0.4,"bc":0.65},{"so2":0.4,"bc":0.8},{"so2":0.4,"bc":0.95},{"so2":0.4,"bc":1.1},{"so2":0.4,"bc":1.25},{"so2":0.4,"bc":1.4},{"so2":0.4,"bc":1.5},
{"so2":0.5,"bc":0.3},{"so2":0.5,"bc":0.45},{"so2":0.5,"bc":0.6},{"so2":0.5,"bc":0.75},{"so2":0.5,"bc":0.9},{"so2":0.5,"bc":1.05},{"so2":0.5,"bc":1.2},{"so2":0.5,"bc":1.35},{"so2":0.5,"bc":1.5},{"so2":0.5,"bc":1.65},
{"so2":0.6,"bc":0.3},{"so2":0.6,"bc":0.45},{"so2":0.6,"bc":0.6},{"so2":0.6,"bc":0.75},{"so2":0.6,"bc":0.9},{"so2":0.6,"bc":1.05},{"so2":0.6,"bc":1.2},{"so2":0.6,"bc":1.35},{"so2":0.6,"bc":1.5},{"so2":0.6,"bc":1.7},
{"so2":0.7,"bc":0.25},{"so2":0.7,"bc":0.35},{"so2":0.7,"bc":0.5},{"so2":0.7,"bc":0.65},{"so2":0.7,"bc":0.8},{"so2":0.7,"bc":0.95},{"so2":0.7,"bc":1.1},{"so2":0.7,"bc":1.25},{"so2":0.7,"bc":1.4},{"so2":0.7,"bc":1.55},
{"so2":0.8,"bc":0.3},{"so2":0.8,"bc":0.45},{"so2":0.8,"bc":0.6},{"so2":0.8,"bc":0.75},{"so2":0.8,"bc":0.9},{"so2":0.8,"bc":1.05},{"so2":0.8,"bc":1.2},{"so2":0.8,"bc":1.35},{"so2":0.8,"bc":1.5},{"so2":0.8,"bc":1.7},
{"so2":0.9,"bc":0.3},{"so2":0.9,"bc":0.45},{"so2":0.9,"bc":0.6},{"so2":0.9,"bc":0.75},{"so2":0.9,"bc":0.9},{"so2":0.9,"bc":1.05},{"so2":0.9,"bc":1.2},{"so2":0.9,"bc":1.35},{"so2":0.9,"bc":1.5},{"so2":0.9,"bc":1.65},
{"so2":1.0,"bc":0.3},{"so2":1.0,"bc":0.45},{"so2":1.0,"bc":0.6},{"so2":1.0,"bc":0.75},{"so2":1.0,"bc":0.9},{"so2":1.0,"bc":1.05},{"so2":1.0,"bc":1.2},{"so2":1.0,"bc":1.35},{"so2":1.0,"bc":1.5},{"so2":1.0,"bc":1.65},
{"so2":1.1,"bc":0.35},{"so2":1.1,"bc":0.5},{"so2":1.1,"bc":0.65},{"so2":1.1,"bc":0.8},{"so2":1.1,"bc":0.95},{"so2":1.1,"bc":1.1},{"so2":1.1,"bc":1.25},{"so2":1.1,"bc":1.4},{"so2":1.1,"bc":1.55},
{"so2":1.2,"bc":0.3},{"so2":1.2,"bc":0.45},{"so2":1.2,"bc":0.6},{"so2":1.2,"bc":0.75},{"so2":1.2,"bc":0.9},{"so2":1.2,"bc":1.05},{"so2":1.2,"bc":1.2},{"so2":1.2,"bc":1.35},{"so2":1.2,"bc":1.5},
{"so2":1.3,"bc":0.35},{"so2":1.3,"bc":0.5},{"so2":1.3,"bc":0.65},{"so2":1.3,"bc":0.8},{"so2":1.3,"bc":0.95},{"so2":1.3,"bc":1.1},{"so2":1.3,"bc":1.25},{"so2":1.3,"bc":1.45},
{"so2":1.4,"bc":0.4},{"so2":1.4,"bc":0.55},{"so2":1.4,"bc":0.7},{"so2":1.4,"bc":0.85},{"so2":1.4,"bc":1.0},{"so2":1.4,"bc":1.15},{"so2":1.4,"bc":1.3},
{"so2":1.5,"bc":0.4},{"so2":1.5,"bc":0.6},{"so2":1.5,"bc":0.8},{"so2":1.5,"bc":1.0},{"so2":1.5,"bc":1.2},{"so2":1.5,"bc":1.4},
{"so2":1.6,"bc":0.45},{"so2":1.6,"bc":0.65},{"so2":1.6,"bc":0.85},{"so2":1.6,"bc":1.05},{"so2":1.6,"bc":1.25}
]
},
"vconcat":[
{"width":487,"height":325,
 "layer":[
  {"data":{"name":"p1"},"mark":{"type":"point","opacity":1},
   "encoding":{"x":{"field":"noy","type":"quantitative","scale":{"domain":[0.84,52.7],"nice":false,"zero":false},"axis":{"orient":"bottom","values":[10,20,30,40,50],"title":"NOᵧ (ppbv)"}},
               "y":{"field":"so2","type":"quantitative","scale":{"domain":[-0.28,11.24],"nice":false,"zero":false},"axis":{"orient":"left","values":[0,2,4,6,8,10],"title":"SO₂ (ppbv)"}}}},
  {"data":{"name":"p1"},"mark":{"type":"point","opacity":0},
   "encoding":{"x":{"field":"noy","type":"quantitative","axis":{"orient":"top","values":[10,20,30,40,50],"labels":false,"title":null}},
               "y":{"field":"so2","type":"quantitative","axis":{"orient":"right","values":[0,2,4,6,8,10],"labels":false,"title":null}}}},
  {"data":{"values":[{"noy":1.0,"so2":-0.02},{"noy":52.7,"so2":7.6}]},"mark":{"type":"line","color":"black","strokeWidth":2},
   "encoding":{"x":{"field":"noy","type":"quantitative","axis":null},"y":{"field":"so2","type":"quantitative","axis":null}}},
  {"data":{"values":[{"noy":6.45,"so2":9.15,"label":"r² = 0.64"}]},"mark":{"type":"text","align":"left","baseline":"middle","fontSize":22,"color":"black","font":"Liberation Sans"},
   "encoding":{"x":{"field":"noy","type":"quantitative","axis":null},"y":{"field":"so2","type":"quantitative","axis":null},"text":{"field":"label"}}}
 ],
 "resolve":{"axis":{"x":"independent","y":"independent"}}
},
{"width":487,"height":325,
 "layer":[
  {"data":{"name":"p2"},"mark":{"type":"point","opacity":1},
   "encoding":{"x":{"field":"noy","type":"quantitative","scale":{"domain":[0.92,52.4],"nice":false,"zero":false},"axis":{"orient":"bottom","values":[10,20,30,40,50],"title":"NOᵧ (ppbv)"}},
               "y":{"field":"bc","type":"quantitative","scale":{"domain":[-0.09,9.47],"nice":false,"zero":false},"axis":{"orient":"left","values":[2,4,6,8],"title":"Black Carbon (ug/m³)","titleFontSize":26,"titlePadding":47}}}},
  {"data":{"name":"p2"},"mark":{"type":"point","opacity":0},
   "encoding":{"x":{"field":"noy","type":"quantitative","axis":{"orient":"top","values":[10,20,30,40,50],"labels":false,"title":null}},
               "y":{"field":"bc","type":"quantitative","axis":{"orient":"right","values":[2,4,6,8],"labels":false,"title":null}}}}
 ],
 "resolve":{"axis":{"x":"independent","y":"independent"}}
},
{"width":487,"height":325,
 "title":{"text":" ","fontSize":2,"offset":15},
 "layer":[
  {"data":{"name":"p3"},"mark":{"type":"point","opacity":1},
   "encoding":{"x":{"field":"so2","type":"quantitative","scale":{"domain":[-0.19,11.2],"nice":false,"zero":false},"axis":{"orient":"bottom","values":[0,2,4,6,8,10],"title":"SO₂ (ppbv)","titlePadding":42}},
               "y":{"field":"bc","type":"quantitative","scale":{"domain":[-0.05,9.46],"nice":false,"zero":false},"axis":{"orient":"left","values":[2,4,6,8],"title":"Black Carbon (ug/m³)","titleFontSize":26,"titlePadding":47}}}},
  {"data":{"name":"p3"},"mark":{"type":"point","opacity":0},
   "encoding":{"x":{"field":"so2","type":"quantitative","axis":{"orient":"top","values":[0,2,4,6,8,10],"labels":false,"title":null}},
               "y":{"field":"bc","type":"quantitative","axis":{"orient":"right","values":[2,4,6,8],"labels":false,"title":null}}}}
 ],
 "resolve":{"axis":{"x":"independent","y":"independent"}}
}
]
}
